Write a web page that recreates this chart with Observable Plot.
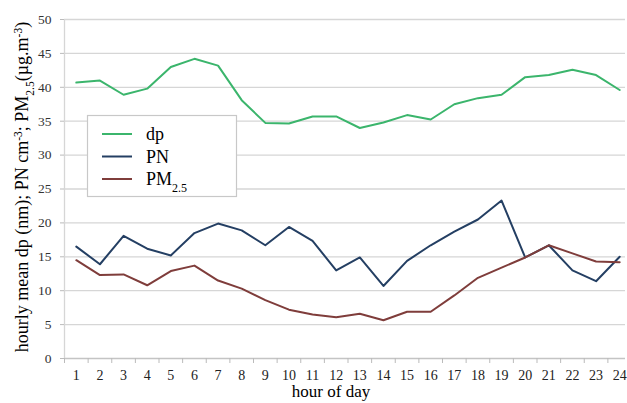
<!DOCTYPE html>
<html>
<head>
<meta charset="utf-8">
<script src="https://cdn.jsdelivr.net/npm/d3@7"></script>
<script src="https://cdn.jsdelivr.net/npm/@observablehq/plot@0.6"></script>
<style>
  html, body { margin: 0; padding: 0; background: #fff; }
  #chart { position: relative; width: 627px; height: 403px; }
  svg, svg text { font-family: "Liberation Serif", "Times New Roman", serif !important; }
</style>
</head>
<body>
<div id="chart"></div>
<script>
const hours = [1,2,3,4,5,6,7,8,9,10,11,12,13,14,15,16,17,18,19,20,21,22,23,24];
const dp   = [40.7,41.0,38.9,39.8,43.0,44.2,43.2,38.1,34.75,34.65,35.7,35.7,34.0,34.8,35.9,35.25,37.5,38.4,38.9,41.5,41.8,42.6,41.8,39.6];
const pn   = [16.5,13.9,18.1,16.2,15.2,18.5,19.9,18.9,16.7,19.4,17.35,13.0,14.9,10.7,14.4,16.7,18.7,20.5,23.3,14.9,16.7,13.0,11.4,15.0];
const pm25 = [14.5,12.3,12.4,10.8,12.9,13.7,11.5,10.3,8.6,7.2,6.5,6.1,6.6,5.65,6.9,6.9,9.3,11.9,13.4,14.9,16.7,15.5,14.3,14.2];
const yTicks = [0,5,10,15,20,25,30,35,40,45,50];
const seriesNames = ["dp","PN","PM2.5"];
const seriesColors = ["#3bb56c","#243f63","#7f3d3b"];

const rows = [];
[dp, pn, pm25].forEach((arr, i) => hours.forEach((h, j) => rows.push({hour: h, value: arr[j], series: seriesNames[i]})));
const edges = hours.map(h => h - 0.5).concat([hours[hours.length-1] + 0.5]);
const FONT = "Liberation Serif, serif";

const plot = Plot.plot({
  width: 627,
  height: 403,
  marginLeft: 64,
  marginRight: 2,
  marginTop: 19,
  marginBottom: 45,
  x: {domain: [0.5, 24.5], range: [64, 631]},
  y: {domain: [0, 50]},
  color: {domain: seriesNames, range: seriesColors},
  style: {fontFamily: FONT, fontSize: "13px", color: "#222"},
  marks: [
    Plot.ruleY(yTicks.filter(d => d > 0), {stroke: "#d6d6d6", strokeWidth: 1.3}),
    Plot.ruleY([0], {stroke: "#c4c4c4", strokeWidth: 1.3}),
    Plot.ruleX([0.5], {stroke: "#d6d6d6", strokeWidth: 1.3}),
    Plot.axisY({ticks: yTicks, tickSize: 4, tickPadding: 9, fontSize: 13.5, fontFamily: FONT, stroke: "#bbb", label: null, fill: "#333"}),
    Plot.axisX({ticks: edges, tickSize: 5, tickFormat: () => "", stroke: "#bbb", label: null}),
    Plot.axisX({ticks: hours, tickSize: 0, tickPadding: 12, fontSize: 14, fontFamily: FONT, label: null, fill: "#222"}),
    Plot.line(rows, {x: "hour", y: "value", stroke: "series", z: "series", strokeWidth: 2, curve: "linear"})
  ]
});
document.getElementById("chart").appendChild(plot);

const svg = d3.select(plot);
// y-axis title with sub/superscripts
const yt = svg.append("text")
  .attr("transform", "translate(28,187) rotate(-90)")
  .attr("text-anchor", "middle")
  .attr("font-family", FONT)
  .attr("font-size", 18)
  .attr("fill", "#000");
yt.append("tspan").text("hourly mean dp (nm); PN cm");
yt.append("tspan").attr("baseline-shift", "super").attr("font-size", 11.5).text("-3");
yt.append("tspan").text("; PM");
yt.append("tspan").attr("baseline-shift", "sub").attr("font-size", 11.5).text("2.5");
yt.append("tspan").text("(µg.m");
yt.append("tspan").attr("baseline-shift", "super").attr("font-size", 11.5).text("-3");
yt.append("tspan").text(")");

// x-axis title
svg.append("text")
  .attr("x", 331).attr("y", 397)
  .attr("text-anchor", "middle")
  .attr("font-family", FONT)
  .attr("font-size", 17)
  .attr("fill", "#000")
  .text("hour of day");

// legend
const lg = svg.append("g");
lg.append("rect").attr("x", 87.5).attr("y", 115.5).attr("width", 149).attr("height", 81)
  .attr("fill", "#fff").attr("stroke", "#c8c8c8").attr("stroke-width", 1.2);
seriesNames.forEach((name, i) => {
  const y = 134 + i * 22.5;
  lg.append("line").attr("x1", 102).attr("x2", 132).attr("y1", y).attr("y2", y)
    .attr("stroke", seriesColors[i]).attr("stroke-width", 2);
  const t = lg.append("text").attr("x", 146).attr("y", y + 6)
    .attr("text-anchor", "start").attr("font-family", FONT)
    .attr("font-size", 18).attr("fill", "#000");
  if (name === "PM2.5") {
    t.append("tspan").text("PM");
    t.append("tspan").attr("baseline-shift", "sub").attr("font-size", 12).text("2.5");
  } else {
    t.text(name);
  }
});
</script>
</body>
</html>
